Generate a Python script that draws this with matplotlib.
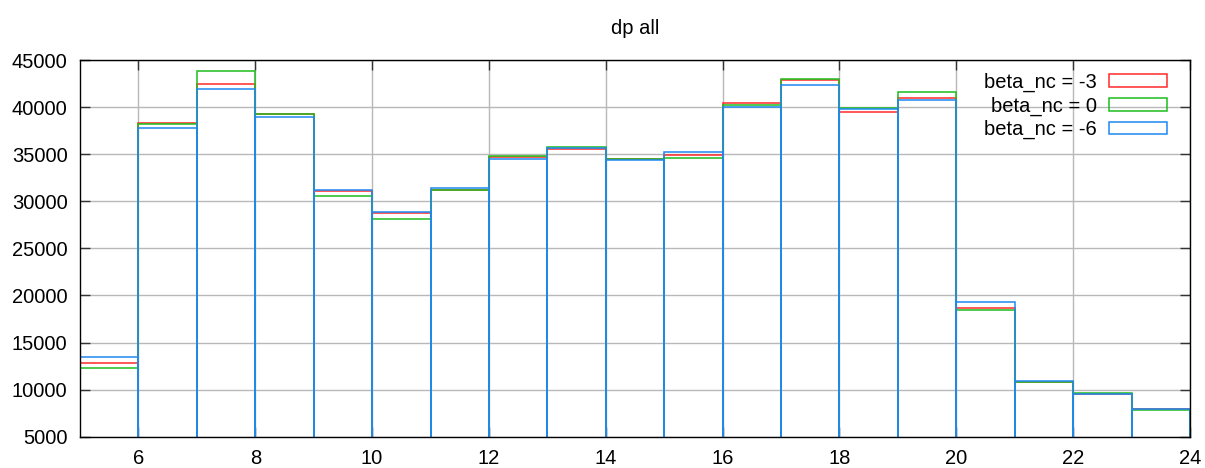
import matplotlib
matplotlib.use("Agg")
import matplotlib.pyplot as plt
from matplotlib.patches import Patch

plt.rcParams['font.family'] = ['Liberation Sans', 'DejaVu Sans']

# histogram bin left edges (unit width)
bin_edges = [5, 6, 7, 8, 9, 10, 11, 12, 13, 14, 15, 16, 17, 18, 19, 20, 21, 22, 23]

counts_m3 = [12860, 38300, 42490, 39220, 31090, 28730, 31230, 34700, 35550, 34450,
             34890, 40470, 42880, 39480, 40970, 18700, 10850, 9550, 7900]
counts_0 = [12330, 38220, 43800, 39300, 30530, 28150, 31200, 34780, 35730, 34520,
            34600, 40200, 43020, 39910, 41640, 18490, 10810, 9610, 7840]
counts_m6 = [13460, 37750, 41890, 38980, 31230, 28860, 31440, 34520, 35700, 34390,
             35240, 40050, 42350, 39770, 40760, 19300, 10950, 9500, 7970]

series = [
    ("beta_nc = -3", counts_m3, "#ff2a2a"),
    ("beta_nc = 0", counts_0, "#1cbd1c"),
    ("beta_nc = -6", counts_m6, "#1e88f0"),
]

x_ticks = [6, 8, 10, 12, 14, 16, 18, 20, 22, 24]
y_ticks = [5000, 10000, 15000, 20000, 25000, 30000, 35000, 40000, 45000]

fig = plt.figure(figsize=(12.05, 4.68), dpi=100)
ax = fig.add_axes([80 / 1205, 1 - 436.7 / 468, 1110 / 1205, 376.7 / 468])

handles = []
for label, vals, color in series:
    ax.bar(bin_edges, vals, width=1.0, align='edge', bottom=0,
           fill=False, edgecolor=color, linewidth=1.1)
    handles.append(Patch(facecolor='none', edgecolor=color, linewidth=1.1, label=label))

ax.set_xlim(5, 24)
ax.set_ylim(5000, 45000)
ax.set_xticks(x_ticks)
ax.set_yticks(y_ticks)
ax.set_axisbelow(True)
ax.grid(True, color='#b8b8b8', linewidth=1.0)

ax.tick_params(direction='in', length=7, width=1.0, top=True, right=True,
               labelsize=14.5, color='#333333')
ax.tick_params(axis='y', pad=9)
ax.tick_params(axis='x', pad=9)
for sp in ax.spines.values():
    sp.set_linewidth(1.0)
    sp.set_color('black')

fig.text((80 + 1190) / 2 / 1205, 1 - 34 / 468, "dp all", ha='center',
         va='baseline', fontsize=14.5)

ax.legend(handles=handles, loc='upper right', bbox_to_anchor=(0.979, 0.966),
          frameon=False, markerfirst=False, fontsize=14.5, borderpad=0,
          borderaxespad=0, handlelength=2.85, handleheight=0.6,
          handletextpad=0.6, labelspacing=0.22)

fig.savefig("out.png", dpi=100)
